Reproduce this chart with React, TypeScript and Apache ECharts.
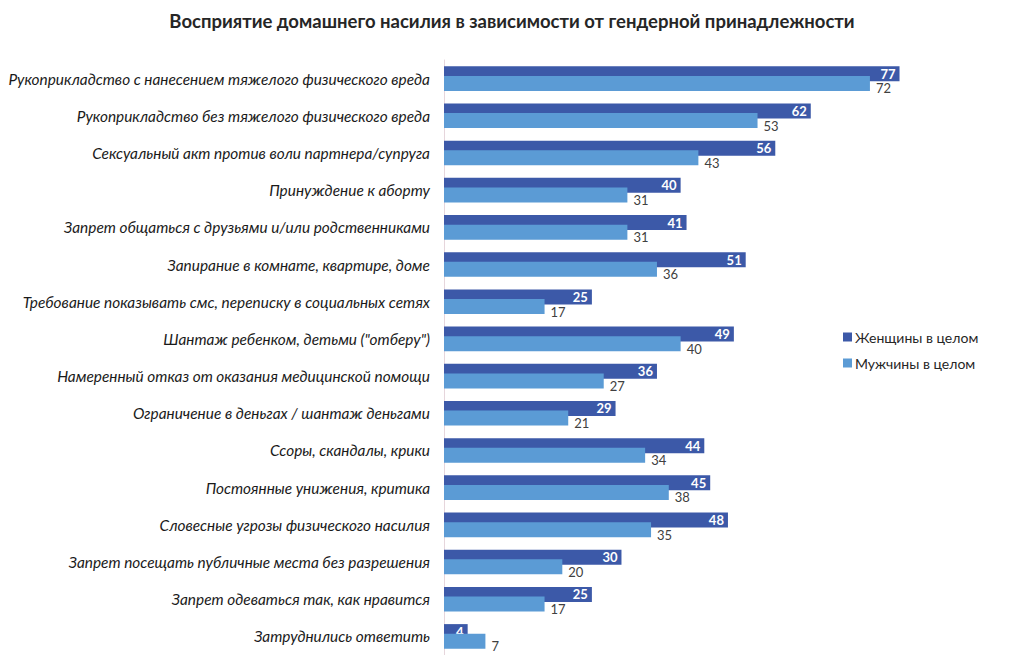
import React, { useEffect, useRef } from "react";
import * as echarts from "echarts";

const categories = [
  "Рукоприкладство с нанесением тяжелого физического вреда",
  "Рукоприкладство без тяжелого физического вреда",
  "Сексуальный акт против воли партнера/супруга",
  "Принуждение к аборту",
  "Запрет общаться с друзьями и/или родственниками",
  "Запирание в комнате, квартире, доме",
  "Требование показывать смс, переписку в социальных сетях",
  "Шантаж ребенком, детьми (\"отберу\")",
  "Намеренный отказ от оказания медицинской помощи",
  "Ограничение в деньгах / шантаж деньгами",
  "Ссоры, скандалы, крики",
  "Постоянные унижения, критика",
  "Словесные угрозы физического насилия",
  "Запрет посещать публичные места без разрешения",
  "Запрет одеваться так, как нравится",
  "Затруднились ответить",
];
const women = [77, 62, 56, 40, 41, 51, 25, 49, 36, 29, 44, 45, 48, 30, 25, 4];
const men = [72, 53, 43, 31, 31, 36, 17, 40, 27, 21, 34, 38, 35, 20, 17, 7];
const seriesNames = ["Женщины в целом", "Мужчины в целом"];
const title = "Восприятие домашнего насилия в зависимости от гендерной принадлежности";

const FONT = "Lato, 'Open Sans', sans-serif";

export default function App() {
  const ref = useRef<HTMLDivElement>(null);
  useEffect(() => {
    if (!ref.current) return;
    const chart = echarts.init(ref.current, null, { renderer: "svg" });
    chart.setOption({
      animation: false,
      backgroundColor: "#ffffff",
      title: {
        text: title,
        left: "center",
        top: 6,
        textStyle: { fontFamily: FONT, fontSize: 18.5, fontWeight: "bold", color: "#262626" },
      },
      legend: {
        orient: "vertical",
        left: 838,
        top: 325,
        itemWidth: 9,
        itemHeight: 9,
        itemGap: 12,
        icon: "rect",
        textStyle: { fontFamily: FONT, fontSize: 14, color: "#262626", padding: [0, 0, 0, -2] },
        data: seriesNames,
      },
      grid: { left: 444, right: 18, top: 60, bottom: 0, containLabel: false, outerBoundsMode: "none" },
      xAxis: {
        type: "value",
        min: 0,
        max: 95,
        show: false,
      },
      yAxis: {
        type: "category",
        inverse: true,
        data: categories,
        axisLine: { show: true, lineStyle: { color: "#e6d6dc", width: 1 } },
        axisTick: { show: false },
        axisLabel: {
          margin: 14,
          fontFamily: FONT,
          fontStyle: "italic",
          fontSize: 15.4,
          color: "#1a1a1a",
        },
      },
      series: [
        {
          name: seriesNames[0],
          type: "bar",
          data: women,
          barWidth: 15,
          barGap: "-36%",
          itemStyle: { color: "#3c59a8" },
          label: {
            show: true,
            position: "insideRight",
            distance: 4,
            color: "#ffffff",
            fontWeight: "bold",
            fontFamily: FONT,
            fontSize: 13,
            lineHeight: 12,
          },
          z: 2,
        },
        {
          name: seriesNames[1],
          type: "bar",
          data: men,
          barWidth: 15,
          itemStyle: { color: "#5b9bd5" },
          label: {
            show: true,
            position: "right",
            distance: 6,
            color: "#404040",
            fontFamily: FONT,
            fontSize: 13,
            lineHeight: 12,
            offset: [0, 5],
          },
          z: 3,
        },
      ],
    });
    return () => chart.dispose();
  }, []);
  return (
    <div
      ref={ref}
      style={{ position: "fixed", left: 0, top: 0, width: 1024, height: 655 }}
    />
  );
}
